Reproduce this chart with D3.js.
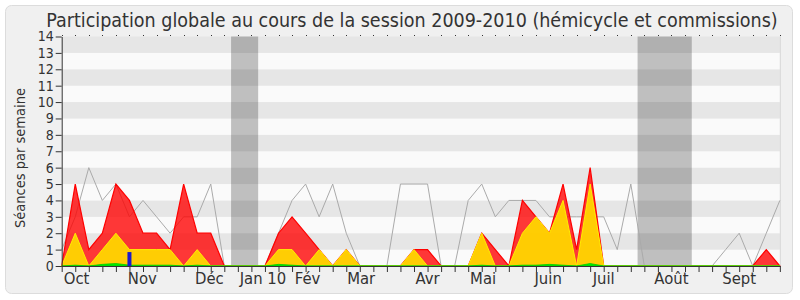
<!DOCTYPE html>
<html lang="fr">
<head>
<meta charset="utf-8">
<style>
body {
  margin: 0;
  background: #fff;
  font-family: 'DejaVu Sans Condensed', 'DejaVu Sans', sans-serif;
  font-stretch: condensed;
}
.title {
  font-size: 19.5px;
  fill: #333;
}
.axis text {
  font-size: 16.5px;
  fill: #333;
  font-family: 'DejaVu Sans Condensed', 'DejaVu Sans', sans-serif;
}
.yaxis text {
  font-size: 14px;
}
.axis path, .axis line {
  stroke: #333;
}
</style>
<title>Participation globale</title>
<script src="https://cdn.jsdelivr.net/npm/d3@7"></script>
</head>
<body>
<div id="chart"></div>
<script type="text/javascript">

// one value per week, from the start of October 2009 to the end of September 2010
var weeks = d3.range(54);

var presences = [0,5,1,2,5,4,2,2,1,5,2,2,0,0,0,0,2,3,2,1,0,1,0,0,0,0,1,1,0,0,0,2,1,0,4,3,2,5,1,6,0,0,0,0,0,0,0,0,0,0,0,0,1,0];
var hemicycle = [0,2,0,1,2,1,1,1,1,0,1,0,0,0,0,0,1,1,0,1,0,1,0,0,0,0,1,0,0,0,0,2,0,0,2,3,2,4,0,5,0,0,0,0,0,0,0,0,0,0,0,0,0,0];
var interventions = [0,0.05,0,0.1,0.15,0.05,0.05,0.05,0.05,0,0.05,0,0,0,0,0,0.1,0.05,0,0,0,0,0,0,0,0,0,0,0,0,0,0.05,0,0,0.05,0.05,0.1,0.05,0,0.15,0,0,0,0,0,0,0,0,0,0,0,0,0,0];
var mediane = [1,3,6,4,5,3,4,3,2,3,3,5,0,0,0,0,2,4,5,3,5,2,0,0,0,5,5,5,0,0,4,5,3,4,4,4,3,3,3,3,3,1,5,0,0,0,0,0,0,1,2,0,2,4];

// questions orales (week, value)
var questions = [[5, 0.85]];

// holiday weeks (first, last)
var vacances = [[13, 14], [43, 46]];

var months = ["Oct", "Nov", "Déc", "Jan 10", "Fév", "Mar", "Avr", "Mai", "Juin", "Juil", "Août", "Sept"];
var monthWeeks = [1.1, 5.95, 10.9, 14.85, 18.15, 22.1, 27, 31.1, 35.9, 40, 45, 50];

var yTicks = d3.range(15);

var w = 800,
    h = 300;

var x = d3.scaleLinear()
    .domain([0, 53])
    .range([61.7, 779.85]);

var y = d3.scaleLinear()
    .domain([0, 14])
    .range([266, 36.5]);

var svg = d3.select("#chart")
    .append("svg")
    .attr("width", w)
    .attr("height", h);

// frame
svg.append("rect")
    .attr("x", 5.5)
    .attr("y", 5.5)
    .attr("width", 787)
    .attr("height", 288)
    .attr("rx", 6)
    .style("fill", "#f0f0f0")
    .style("stroke", "#dcdcdc");

svg.append("text")
    .attr("class", "title")
    .attr("x", 412)
    .attr("y", 26.5)
    .style("text-anchor", "middle")
    .text("Participation globale au cours de la session 2009-2010 (hémicycle et commissions)");

// striped background
svg.append("g")
    .selectAll("rect")
    .data(d3.range(14))
    .enter()
    .append("rect")
    .attr("x", x(0))
    .attr("width", x(53) - x(0))
    .attr("y", function(d) { return y(d + 1); })
    .attr("height", function(d) { return y(d) - y(d + 1); })
    .style("fill", function(d) { return d % 2 == 1 ? "#e6e6e6" : "#fafafa"; });

svg.append("line")
    .attr("x1", x(53) + 0.5)
    .attr("x2", x(53) + 0.5)
    .attr("y1", y(14))
    .attr("y2", y(0))
    .style("stroke", "#d8d8d8");

// holidays
svg.append("g")
    .selectAll("rect")
    .data(vacances)
    .enter()
    .append("rect")
    .attr("x", function(d) { return x(d[0] - 0.5); })
    .attr("width", function(d) { return x(d[1] + 0.5) - x(d[0] - 0.5); })
    .attr("y", y(14))
    .attr("height", y(0) - y(14))
    .style("fill", "#000")
    .style("fill-opacity", 0.235);

// median line
var line = d3.line()
    .x(function(d, i) { return x(i); })
    .y(function(d) { return y(d); });

svg.append("path")
    .datum(mediane)
    .attr("d", line)
    .style("fill", "none")
    .style("stroke", "#aaa")
    .style("stroke-width", 1);

function area(values) {
  return d3.area()
      .x(function(d, i) { return x(i); })
      .y0(y(0))
      .y1(function(d) { return y(d); })(values);
}

svg.append("path")
    .attr("d", area(presences))
    .style("fill", "#ff0000")
    .style("fill-opacity", 0.78)
    .style("stroke", "#ff0000")
    .style("stroke-width", 1.2);

svg.append("path")
    .attr("d", area(hemicycle))
    .style("fill", "#ffd500")
    .style("fill-opacity", 0.95)
    .style("stroke", "#ffee00")
    .style("stroke-width", 1);

svg.append("path")
    .attr("d", area(interventions))
    .style("fill", "#00ee00")
    .style("stroke", "#00cc00")
    .style("stroke-width", 0.8);

svg.append("g")
    .selectAll("rect")
    .data(questions)
    .enter()
    .append("rect")
    .attr("x", function(d) { return x(d[0]) - 2; })
    .attr("width", 4)
    .attr("y", function(d) { return y(d[1]); })
    .attr("height", function(d) { return y(0) - y(d[1]); })
    .style("fill", "#1a1acc");

// axes
svg.append("g")
    .attr("class", "axis yaxis")
    .attr("transform", "translate(" + x(0) + ",0)")
    .call(d3.axisLeft(y).tickValues(yTicks).tickSize(6).tickPadding(2).tickSizeOuter(0));

var xAxis = svg.append("g")
    .attr("class", "axis")
    .attr("transform", "translate(0," + y(0) + ")")
    .call(d3.axisBottom(x).tickValues(weeks).tickSize(6).tickFormat("").tickSizeOuter(0));

xAxis.selectAll(".month")
    .data(months)
    .enter()
    .append("text")
    .attr("class", "month")
    .attr("x", function(d, i) { return x(monthWeeks[i]); })
    .attr("y", 18)
    .style("text-anchor", "middle")
    .text(function(d) { return d; });

// dotted top edge
svg.append("g")
    .selectAll("rect")
    .data(weeks)
    .enter()
    .append("rect")
    .attr("x", function(d) { return Math.round(x(d)); })
    .attr("y", y(14) - 1.5)
    .attr("width", 1)
    .attr("height", 1)
    .style("fill", "#333");

svg.append("text")
    .attr("transform", "translate(25,158)rotate(-90)")
    .style("text-anchor", "middle")
    .style("font-size", "14.5px")
    .style("fill", "#333")
    .text("Séances par semaine");

</script>
</body>
</html>
